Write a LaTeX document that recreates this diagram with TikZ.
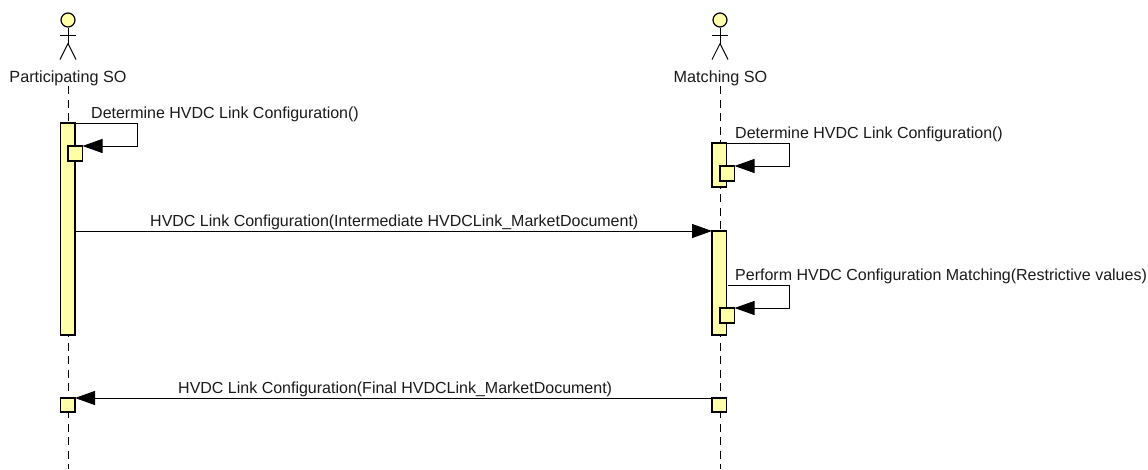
\documentclass[tikz,border=0pt]{standalone}
\usepackage{fontspec}
\setmainfont{Liberation Sans}
\usetikzlibrary{arrows.meta,positioning,calc}
\definecolor{lifefill}{HTML}{FFFFA8}
\definecolor{txt}{HTML}{1A1A1A}

\begin{document}
\begin{tikzpicture}[
  x=1pt, y=-1pt,
  >={Triangle[length=20pt,width=14pt]},
  head/.style={circle, draw=black, fill=lifefill, line width=1.2pt, minimum size=14pt, inner sep=0pt},
  actorname/.style={font=\fontsize{16.2}{18}\selectfont, text=txt, inner sep=0pt},
  msgtext/.style={font=\fontsize{16}{18}\selectfont, text=txt, inner sep=0pt},
  act/.style={draw=black, fill=lifefill, line width=1.2pt, minimum width=14.5pt, inner sep=0pt, outer sep=0pt, anchor=north west},
  lifeline/.style={line width=1pt, dash pattern=on 8pt off 5.5pt},
  limb/.style={line width=1pt},
  msg/.style={->, line width=1pt, color=black},
]
\useasboundingbox (0,0) rectangle (1148,469);

% actors
\node[head] (headP) at (68,20) {};
\node[head] (headM) at (720,20) {};
\foreach \who in {headP,headM}{
  \draw[limb] (\who.south) -- ++(0,16) coordinate (hip\who);
  \draw[limb] ($(\who.south)+(-8,8)$) -- ++(16,0);
  \draw[limb] (hip\who) -- ++(-8,16);
  \draw[limb] (hip\who) -- ++(8,16);
}
\node[actorname] (nameP) at (68,78) {Participating SO};
\node[actorname] (nameM) at (720.5,78) {Matching SO};

% lifelines
\coordinate (endP) at (68,469);
\coordinate (endM) at (720,469);
\draw[lifeline] (68,86) -- (endP);
\draw[lifeline] (720,86) -- (endM);

% activations
\node[act, minimum height=212pt] (actP) at (60.5,123) {};
\node[act, minimum height=15pt] (smallP) at (68,146) {};
\node[act, minimum height=44pt] (actMa) at (712,143) {};
\node[act, minimum height=15pt] (smallMa) at (720,166) {};
\node[act, minimum height=104pt] (actMb) at (712,231) {};
\node[act, minimum height=15pt] (smallMb) at (720,308) {};
\node[act, minimum height=14pt] (finalM) at (712,398) {};
\node[act, minimum height=14pt] (finalP) at (60.5,398) {};

% self messages
\draw[msg] (actP.north east) -- (137,123) -- (137,146) -- (smallP.north east);
\draw[msg] (actMa.north east) -- (789,143) -- (789,166) -- (smallMa.north east);
\draw[msg] ($(actMb.north east)+(1,54)$) -- (789,285) -- (789,308) -- (smallMb.north east);

% messages
\draw[msg] (actP.east |- actMb.north) -- (actMb.north west);
\draw[msg] (finalM.north west) -- (finalP.north east);

% labels
\node[msgtext, anchor=west] (lblA) at (91,114) {Determine HVDC Link Configuration()};
\node[msgtext, anchor=west] (lblB) at (735,134) {Determine HVDC Link Configuration()};
\node[msgtext, anchor=west] (lblC) at (150,222) {HVDC Link Configuration(Intermediate HVDCLink\_MarketDocument)};
\node[msgtext, anchor=west] (lblD) at (735,276) {Perform HVDC Configuration Matching(Restrictive values)};
\node[msgtext, anchor=west] (lblE) at (178,389) {HVDC Link Configuration(Final HVDCLink\_MarketDocument)};

\end{tikzpicture}
\end{document}
